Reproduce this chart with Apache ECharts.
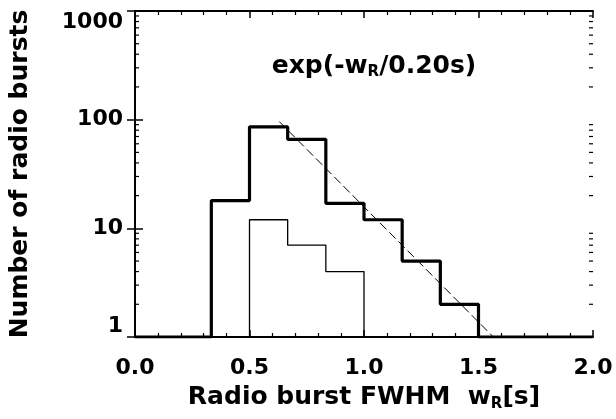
<!DOCTYPE html>
<html><head><meta charset="utf-8">
<script src="https://cdn.jsdelivr.net/npm/echarts@6/dist/echarts.min.js"></script>
<style>html,body{margin:0;padding:0;background:#fff}#c{width:616px;height:419px}</style>
</head><body><div id="c"></div>
<script>
// ---- data ----
const binEdges = [1/3, 0.5, 2/3, 5/6, 1.0, 7/6, 4/3, 1.5];
const allCounts = [18, 86, 66, 17, 12, 5, 2];
const subsetEdges = [0.5, 2/3, 5/6, 1.0];
const subsetCounts = [12, 7, 4];
const fitLine = [[0.63, 96], [1.565, 1]];
const xTickLabels = ['0.0', '0.5', '1.0', '1.5', '2.0'];
const yTickLabels = ['1', '10', '100', '1000'];
const yMinorTicks = [2,3,4,5,6,7,8,9,20,30,40,50,60,70,80,90,200,300,400,500,600,700,800,900];

// ---- build step outlines ----
const thickData = [[0, 1]];
for (let i = 0; i < allCounts.length; i++) thickData.push([binEdges[i], allCounts[i]]);
thickData.push([binEdges[binEdges.length - 1], 1], [2.0, 1]);

const thinData = [[subsetEdges[0], 1]];
for (let i = 0; i < subsetCounts.length; i++) thinData.push([subsetEdges[i], subsetCounts[i]]);
thinData.push([subsetEdges[subsetEdges.length - 1], 1]);

const FONT = 'DejaVu Sans';
const chart = echarts.init(document.getElementById('c'), null, {renderer: 'canvas'});
const axisLine = {show: true, lineStyle: {color: '#000', width: 2}};
const xCommon = {
  type: 'value', min: 0, max: 2, interval: 0.5,
  axisLine: axisLine,
  axisTick: {show: true, inside: true, length: 7, lineStyle: {color: '#000', width: 1.5}},
  minorTick: {show: true, splitNumber: 5, length: 4, lineStyle: {color: '#000', width: 1.2}},
  splitLine: {show: false}, minorSplitLine: {show: false}
};
const yCommon = {
  type: 'log', logBase: 10, min: 1, max: 1000,
  axisLine: axisLine,
  axisTick: {show: true, inside: true, length: 8, lineStyle: {color: '#000', width: 1.5}},
  splitLine: {show: false}, minorSplitLine: {show: false}
};

chart.setOption({
  animation: false,
  backgroundColor: '#fff',
  grid: {left: 134, right: 23, top: 11, bottom: 82, containLabel: false},
  xAxis: [
    Object.assign({}, xCommon, {
      position: 'bottom',
      axisLabel: {show: true, color: '#000', fontFamily: FONT, fontWeight: 'bold', fontSize: 22, margin: 20,
        formatter: (v) => xTickLabels[Math.round(v / 0.5)]},
      name: 'Radio burst FWHM  w{sub|R}[s]',
      nameLocation: 'middle', nameGap: 42,
      nameTextStyle: {color: '#000', fontFamily: FONT, fontWeight: 'bold', fontSize: 25, lineHeight: 28,
        rich: {sub: {fontFamily: FONT, fontWeight: 'bold', fontSize: 15, color: '#000', verticalAlign: 'bottom', lineHeight: 12}}}
    }),
    Object.assign({}, xCommon, {position: 'top', axisLabel: {show: false}})
  ],
  yAxis: [
    Object.assign({}, yCommon, {
      position: 'left',
      axisLabel: {show: true, color: '#000', fontFamily: FONT, fontWeight: 'bold', fontSize: 22, margin: 12,
        verticalAlignMaxLabel: 'top', verticalAlignMinLabel: 'bottom',
        formatter: (v) => yTickLabels[Math.round(Math.log10(v))]},
      name: 'Number of radio bursts', nameLocation: 'middle', nameGap: 102, nameRotate: 90,
      nameTextStyle: {color: '#000', fontFamily: FONT, fontWeight: 'bold', fontSize: 25}
    }),
    Object.assign({}, yCommon, {position: 'right', axisLabel: {show: false}})
  ],
  graphic: [{
    type: 'text', x: 374, y: 66,
    style: {
      text: 'exp(-w{sub|R}/0.20s)', align: 'center', verticalAlign: 'middle',
      fill: '#000', font: 'bold 25px "DejaVu Sans"', lineHeight: 28,
      rich: {sub: {fontFamily: FONT, fontWeight: 'bold', fontSize: 15, fill: '#000', verticalAlign: 'bottom', lineHeight: 12}}
    }
  }],
  series: [
    {type: 'line', data: thickData, step: 'end', showSymbol: false, xAxisIndex: 0, yAxisIndex: 0,
      lineStyle: {color: '#000', width: 3.2}, z: 5},
    {type: 'line', data: thinData, step: 'end', showSymbol: false, xAxisIndex: 0, yAxisIndex: 0,
      lineStyle: {color: '#000', width: 1.3}, z: 4},
    {type: 'line', data: fitLine, showSymbol: false, xAxisIndex: 0, yAxisIndex: 0,
      lineStyle: {color: '#000', width: 1, type: [9, 4]}, z: 3},
    {type: 'custom', xAxisIndex: 0, yAxisIndex: 0, silent: true, clip: false, z: 6,
      data: yMinorTicks.map(v => [0, v]),
      renderItem: function (params, api) {
        const cs = params.coordSys;
        const y = api.coord([0, api.value(1)])[1];
        const st = {stroke: '#000', lineWidth: 1.2};
        return {type: 'group', children: [
          {type: 'line', shape: {x1: cs.x, y1: y, x2: cs.x + 4, y2: y}, style: st},
          {type: 'line', shape: {x1: cs.x + cs.width - 4, y1: y, x2: cs.x + cs.width, y2: y}, style: st}
        ]};
      }}
  ]
});
</script></body></html>
